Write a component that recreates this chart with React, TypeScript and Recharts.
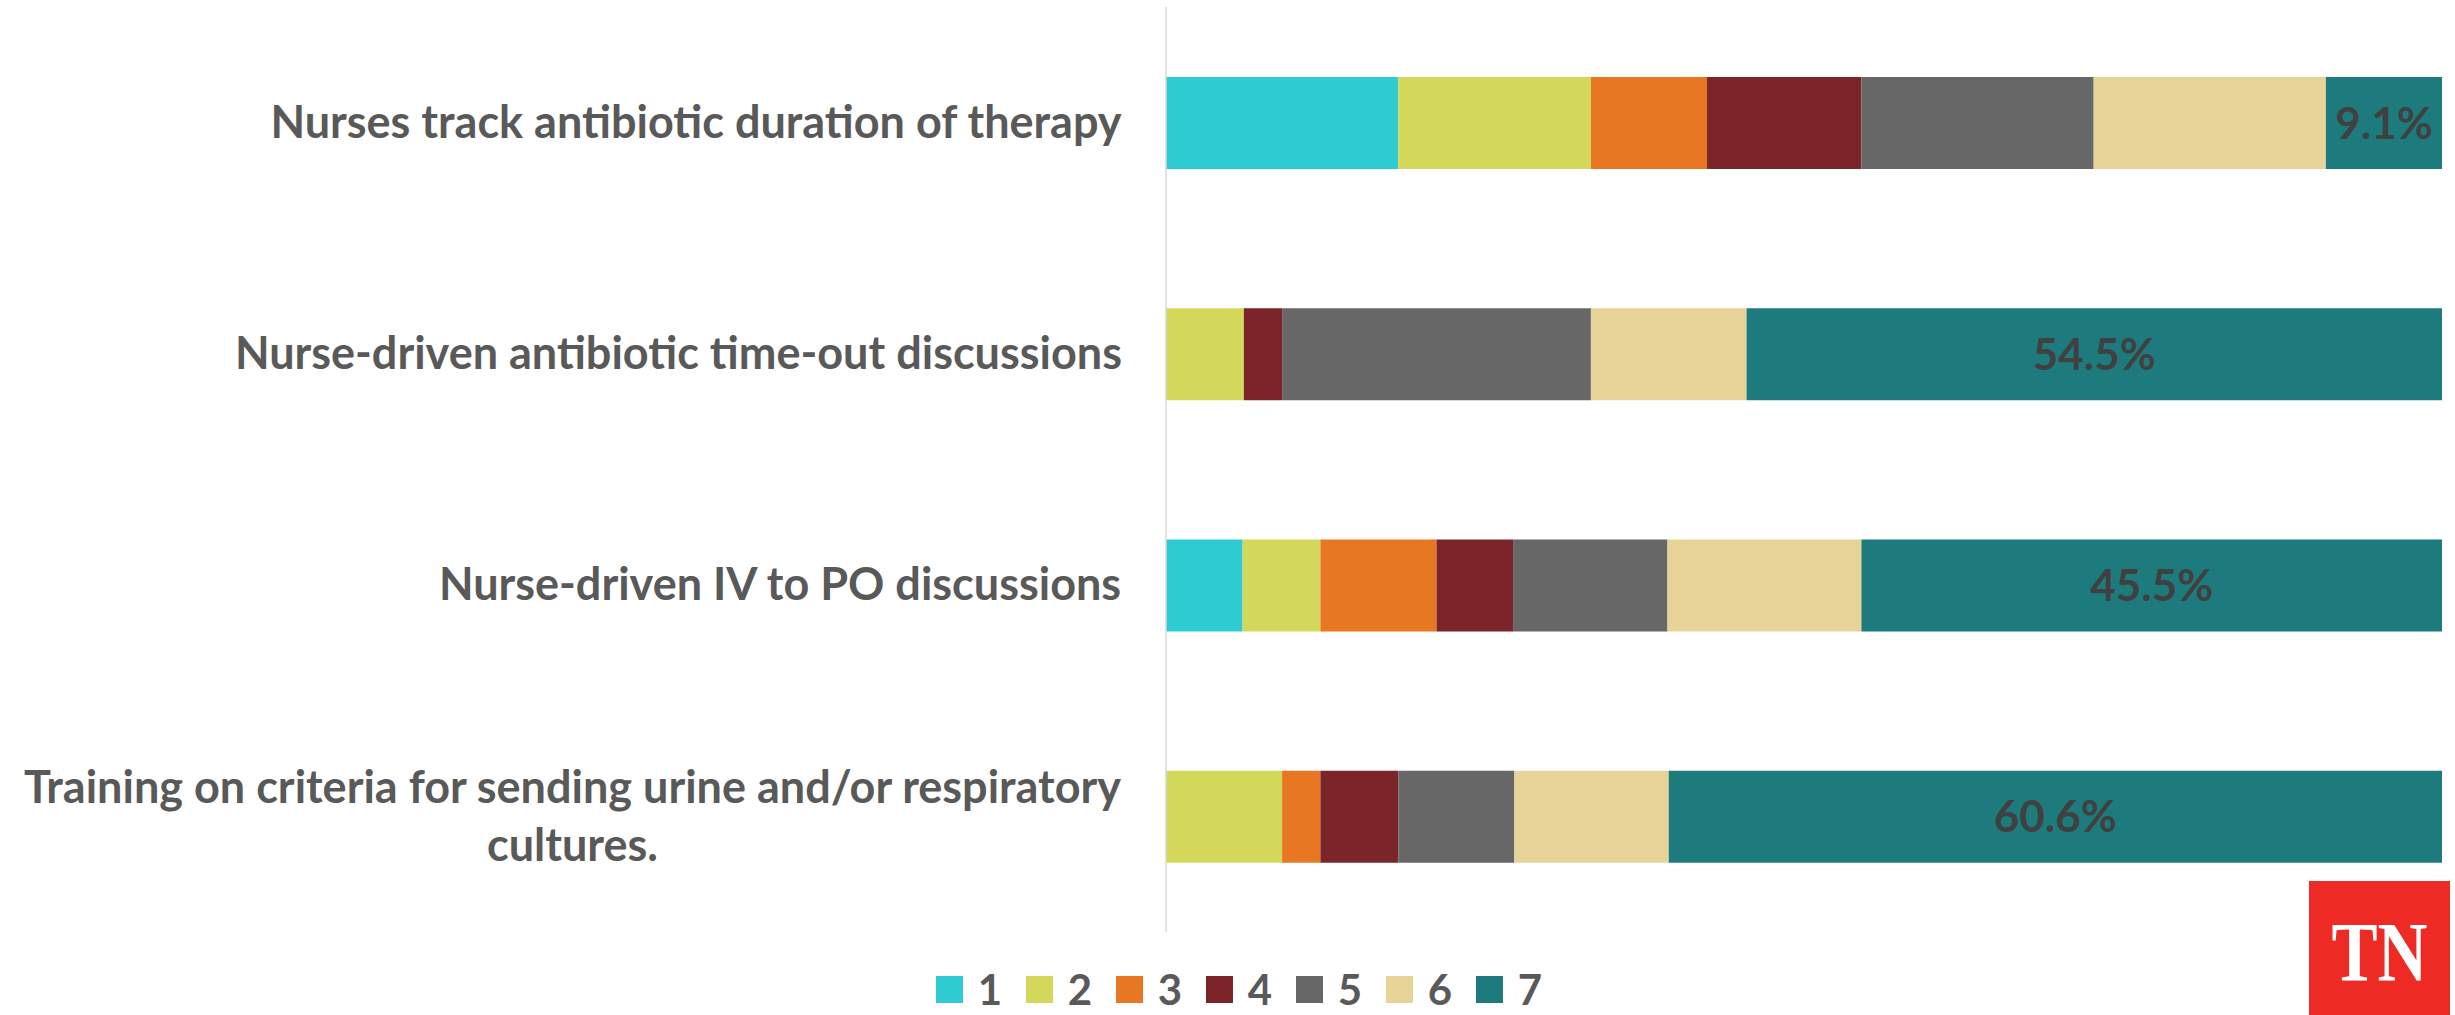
import React from 'react';
import { BarChart, Bar, XAxis, YAxis, Legend, LabelList } from 'recharts';

// Survey items, top to bottom
const categories = [
  'Nurses track antibiotic duration of therapy',
  'Nurse-driven antibiotic time-out discussions',
  'Nurse-driven IV to PO discussions',
  'Training on criteria for sending urine and/or respiratory cultures.',
];

// Share of responses (%) for each rating, one value per item
const rating1 = [18.2, 0, 6.0, 0];
const rating2 = [15.1, 6.1, 6.1, 9.1];
const rating3 = [9.1, 0, 9.1, 3.0];
const rating4 = [12.1, 3.0, 6.0, 6.1];
const rating5 = [18.2, 24.2, 12.1, 9.1];
const rating6 = [18.2, 12.2, 15.2, 12.1];
const rating7 = [9.1, 54.5, 45.5, 60.6];

const ratingNames = ['1', '2', '3', '4', '5', '6', '7'];
const ratingColors = ['#2ECBD3', '#D3D85A', '#E77722', '#7B2429', '#676767', '#E7D397', '#1E7B7D'];
const ratingValues = [rating1, rating2, rating3, rating4, rating5, rating6, rating7];

const data = categories.map((name, i) => {
  const row: Record<string, string | number> = { name };
  ratingNames.forEach((r, k) => {
    row['r' + r] = ratingValues[k][i];
  });
  return row;
});

const FONT = 'Lato, "Open Sans", sans-serif';
const LABEL_SIZE = 45;
const LINE_HEIGHT = 58;

let measureCtx: CanvasRenderingContext2D | null = null;
const textWidth = (s: string) => {
  if (!measureCtx) measureCtx = document.createElement('canvas').getContext('2d');
  if (!measureCtx) return s.length * LABEL_SIZE * 0.5;
  measureCtx.font = `bold ${LABEL_SIZE}px Lato`;
  return measureCtx.measureText(s).width;
};

const wrapText = (text: string, maxWidth: number) => {
  const words = text.split(' ');
  const lines: string[] = [];
  let cur = '';
  words.forEach((w) => {
    const next = cur ? cur + ' ' + w : w;
    if (cur && textWidth(next) > maxWidth) {
      lines.push(cur);
      cur = w;
    } else {
      cur = next;
    }
  });
  if (cur) lines.push(cur);
  return lines;
};

// right-aligned block, lines centred on each other
const CategoryTick = (props: any) => {
  const { x, y, payload } = props;
  const right = x;
  const lines = wrapText(payload.value, right - 4);
  const w = Math.max(...lines.map(textWidth));
  const cx = right - w / 2;
  const y0 = y - ((lines.length - 1) * LINE_HEIGHT) / 2;
  return (
    <text
      x={cx}
      y={y0}
      textAnchor="middle"
      fill="#595959"
      fontFamily={FONT}
      fontWeight={700}
      fontSize={LABEL_SIZE}
    >
      {lines.map((line, i) => (
        <tspan key={i} x={cx} y={y0 + i * LINE_HEIGHT} dy="0.34em">
          {line}
        </tspan>
      ))}
    </text>
  );
};

const renderLegend = (props: any) => {
  const items = props.payload || [];
  return (
    <div
      style={{
        display: 'flex',
        justifyContent: 'center',
        alignItems: 'center',
        height: 32,
        paddingLeft: 36,
      }}
    >
      {items.map((item: any, i: number) => (
        <div
          key={item.value}
          style={{
            display: 'flex',
            alignItems: 'center',
            width: i === items.length - 1 ? 'auto' : 90,
          }}
        >
          <span style={{ display: 'inline-block', width: 27, height: 27, background: item.color }} />
          <span
            style={{
              marginLeft: 15,
              fontFamily: FONT,
              fontWeight: 700,
              fontSize: 42,
              lineHeight: '32px',
              color: '#595959',
            }}
          >
            {item.value}
          </span>
        </div>
      ))}
    </div>
  );
};

const TnBadge = () => (
  <svg
    width={141}
    height={134}
    style={{ position: 'absolute', left: 2309, top: 881 }}
  >
    <rect x={0} y={0} width={141} height={134} fill="#EE2A24" />
    <text
      x={70.5}
      y={100}
      textAnchor="middle"
      fill="#FFFFFF"
      fontFamily='"Liberation Serif", "DejaVu Serif", serif'
      fontWeight={700}
      fontSize={85}
      textLength={96}
      lengthAdjust="spacingAndGlyphs"
    >
      TN
    </text>
  </svg>
);

export default function App() {
  return (
    <div
      style={{
        position: 'absolute',
        left: 0,
        top: 0,
        width: 2455,
        height: 1015,
        background: '#FFFFFF',
        overflow: 'hidden',
      }}
    >
      <BarChart
        width={2455}
        height={1015}
        data={data}
        layout="vertical"
        margin={{ top: 7, right: 13, bottom: 51, left: 0 }}
        barSize={92}
      >
        <XAxis type="number" domain={[0, 100]} hide />
        <YAxis
          type="category"
          dataKey="name"
          width={1166}
          axisLine={{ stroke: '#D9D9D9', strokeWidth: 1.5 }}
          tickLine={false}
          tickSize={0}
          tickMargin={44}
          tick={<CategoryTick />}
          interval={0}
        />
        <Legend verticalAlign="bottom" content={renderLegend} wrapperStyle={{ bottom: 10 }} />
        {ratingNames.map((r, k) => (
          <Bar
            key={r}
            dataKey={'r' + r}
            name={r}
            stackId="a"
            fill={ratingColors[k]}
            isAnimationActive={false}
          >
            {r === '7' && (
              <LabelList
                dataKey={'r' + r}
                position="center"
                formatter={(v: any) => `${v}%`}
                fill="#404040"
                fontFamily={FONT}
                fontWeight={700}
                fontSize={44}
              />
            )}
          </Bar>
        ))}
      </BarChart>
      <TnBadge />
    </div>
  );
}
